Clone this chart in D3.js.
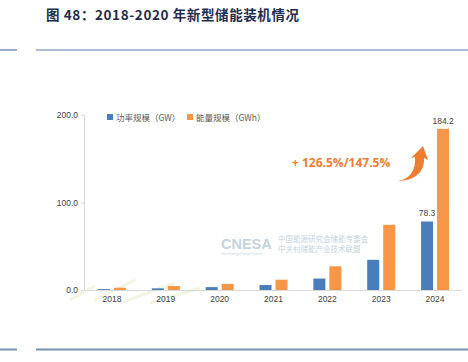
<!DOCTYPE html>
<html>
<head>
<meta charset="utf-8">
<script src="https://cdn.jsdelivr.net/npm/d3@7"></script>
<style>
  body { margin: 0; background: #fff; }
  svg { display: block; font-family: "Noto Sans CJK SC", "Noto Sans", sans-serif; }
</style>
</head>
<body>
<svg id="chart" width="468" height="362"></svg>
<script>
// chart values
const years = ["2018", "2019", "2020", "2021", "2022", "2023", "2024"];
const powerGW = [1.0, 1.9, 3.3, 5.7, 13.1, 34.5, 78.3];
const energyGWh = [2.6, 4.6, 7.0, 11.8, 27.1, 74.5, 184.2];
const yTicks = [0, 100, 200];
const seriesNames = ["功率规模（GW）", "能量规模（GWh）"];
const seriesColors = ["#4a7ebb", "#f79646"];
const titleText = "图 48：2018-2020 年新型储能装机情况";
const growthText = "+ 126.5%/147.5%";

const svg = d3.select("#chart");

// title and rules
svg.append("text")
  .attr("x", 46).attr("y", 20)
  .attr("font-size", 13.5).attr("font-weight", "bold")
  .attr("letter-spacing", 0.6)
  .attr("fill", "#1f2d4d")
  .text(titleText);

[[0, 17], [36, 468]].forEach(s => {
  svg.append("line").attr("x1", s[0]).attr("x2", s[1]).attr("y1", 50).attr("y2", 50)
    .attr("stroke", "#5a7aa6").attr("stroke-width", 1.2);
  svg.append("line").attr("x1", s[0]).attr("x2", s[1]).attr("y1", 349.5).attr("y2", 349.5)
    .attr("stroke", "#7692b0").attr("stroke-width", 2);
});

// scales
const x = d3.scaleBand().domain(years).range([85, 462]).padding(0);
const y = d3.scaleLinear().domain([0, 200]).range([290, 115]);
const barW = 12, gap = 4;

// faint decoration bottom-left
const deco = svg.append("g").attr("opacity", 0.25);
[[70, 300, 95, 286], [95, 300, 135, 280], [120, 303, 175, 283], [150, 303, 200, 288]].forEach(d => {
  deco.append("line").attr("x1", d[0]).attr("y1", d[1]).attr("x2", d[2]).attr("y2", d[3])
    .attr("stroke", "#c9d98a").attr("stroke-width", 3);
});

// watermark
const wm = svg.append("g").attr("fill", "#c5d3dc");
wm.append("text").attr("x", 221).attr("y", 249).attr("font-size", 14.5).attr("font-weight", "bold")
  .attr("font-family", "Liberation Sans, Arial, sans-serif").text("CNESA");
wm.append("text").attr("x", 221).attr("y", 255).attr("font-size", 3).text("China Energy Storage Alliance");
wm.append("text").attr("x", 278).attr("y", 242).attr("font-size", 7.5).text("中国能源研究会储能专委会");
wm.append("text").attr("x", 278).attr("y", 252).attr("font-size", 7.5).text("中关村储能产业技术联盟");

// y axis
const yAxis = svg.append("g").attr("transform", "translate(84,0)")
  .call(d3.axisLeft(y).tickValues(yTicks).tickFormat(d3.format(".1f")).tickSize(3));
yAxis.select(".domain").attr("stroke", "#d9d9d9");
yAxis.selectAll(".tick line").attr("stroke", "#d9d9d9");
yAxis.selectAll("text").attr("font-size", 8.5).attr("fill", "#404040")
  .attr("font-family", "Liberation Sans, Arial, sans-serif");

// x axis
const xAxis = svg.append("g").attr("transform", "translate(0,290)")
  .call(d3.axisBottom(x).tickSize(0).tickPadding(6));
xAxis.select(".domain").attr("stroke", "#d9d9d9").attr("d", "M84,0.5H462");
xAxis.selectAll("text").attr("font-size", 8.5).attr("fill", "#404040")
  .attr("font-family", "Liberation Sans, Arial, sans-serif");

// bars
const series = [powerGW, energyGWh];
series.forEach((vals, si) => {
  svg.append("g").selectAll("rect")
    .data(years.map((yr, i) => ({ yr, v: vals[i] })))
    .enter().append("rect")
    .attr("x", d => x(d.yr) + x.bandwidth() / 2 + (si === 0 ? -gap / 2 - barW : gap / 2))
    .attr("y", d => y(d.v))
    .attr("width", barW)
    .attr("height", d => y(0) - y(d.v))
    .attr("fill", seriesColors[si]);
});

// labels on last year
const last = years.length - 1;
[[powerGW, 0], [energyGWh, 1]].forEach(([vals, si]) => {
  const cx = x(years[last]) + x.bandwidth() / 2 + (si === 0 ? -gap / 2 - barW / 2 : gap / 2 + barW / 2);
  svg.append("text").attr("x", cx).attr("y", y(vals[last]) - 5)
    .attr("text-anchor", "middle").attr("font-size", 8.5).attr("fill", "#404040")
    .attr("font-family", "Liberation Sans, Arial, sans-serif")
    .text(vals[last].toFixed(1));
});

// legend
const legend = svg.append("g");
[110, 190].forEach((lx, i) => {
  legend.append("rect").attr("x", lx - 3).attr("y", 114).attr("width", 6).attr("height", 6)
    .attr("fill", seriesColors[i]);
  legend.append("text").attr("x", lx + 6).attr("y", 120.5).attr("font-size", 8.5)
    .attr("fill", "#595959").text(seriesNames[i]);
});

// growth annotation
svg.append("text").attr("x", 292).attr("y", 167)
  .attr("font-size", 12).attr("font-weight", "bold").attr("fill", "#ed7d31")
  .attr("font-family", "Open Sans, Noto Sans, sans-serif")
  .text(growthText);

// curved arrow
svg.append("path")
  .attr("d", "M398,181 C410,179 416,170 415,157 L411,158 L423,146 L428,160 L424,158 C425,172 414,181 398,181 Z")
  .attr("fill", "#ed7d31");
</script>
</body>
</html>
